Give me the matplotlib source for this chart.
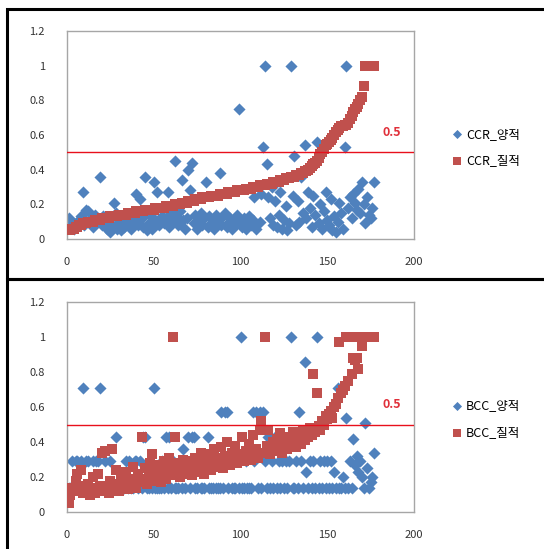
import matplotlib
matplotlib.use("Agg")
import matplotlib.pyplot as plt
from matplotlib.patches import Rectangle

plt.rcParams['font.family'] = ['Noto Sans CJK KR', 'DejaVu Sans']

# ---- data (x = DMU 순번) ----
ccr_qual = [
    0.05, 0.05, 0.06, 0.06, 0.07, 0.07, 0.08, 0.08, 0.09, 0.09,
    0.09, 0.10, 0.10, 0.10, 0.10, 0.11, 0.11, 0.11, 0.11, 0.12,
    0.12, 0.12, 0.12, 0.12, 0.13, 0.13, 0.13, 0.13, 0.13, 0.14,
    0.14, 0.14, 0.14, 0.14, 0.15, 0.15, 0.15, 0.15, 0.15, 0.16,
    0.16, 0.16, 0.16, 0.16, 0.17, 0.17, 0.17, 0.17, 0.17, 0.17,
    0.18, 0.18, 0.18, 0.18, 0.18, 0.18, 0.19, 0.19, 0.19, 0.19,
    0.19, 0.20, 0.20, 0.20, 0.20, 0.21, 0.21, 0.21, 0.21, 0.22,
    0.22, 0.22, 0.22, 0.23, 0.23, 0.23, 0.23, 0.24, 0.24, 0.24,
    0.24, 0.24, 0.25, 0.25, 0.25, 0.25, 0.25, 0.26, 0.26, 0.26,
    0.26, 0.26, 0.27, 0.27, 0.27, 0.27, 0.27, 0.28, 0.28, 0.28,
    0.28, 0.28, 0.29, 0.29, 0.29, 0.29, 0.30, 0.30, 0.30, 0.30,
    0.31, 0.31, 0.31, 0.31, 0.32, 0.32, 0.32, 0.32, 0.33, 0.33,
    0.33, 0.33, 0.34, 0.34, 0.34, 0.35, 0.35, 0.35, 0.36, 0.36,
    0.36, 0.37, 0.37, 0.37, 0.38, 0.38, 0.39, 0.39, 0.40, 0.41,
    0.42, 0.43, 0.44, 0.45, 0.47, 0.49, 0.50, 0.52, 0.54, 0.55,
    0.56, 0.57, 0.58, 0.60, 0.62, 0.63, 0.64, 0.65, 0.65, 0.66,
    0.66, 0.67, 0.69, 0.71, 0.73, 0.75, 0.76, 0.78, 0.80, 0.82,
    0.88, 1.00, 1.00, 1.00, 1.00, 1.00, 1.00,
]
ccr_quant = [
    0.12, 0.08, 0.10, 0.06, 0.09, 0.07, 0.11, 0.13, 0.27, 0.08,
    0.17, 0.16, 0.09, 0.12, 0.07, 0.14, 0.10, 0.11, 0.36, 0.08,
    0.13, 0.09, 0.06, 0.11, 0.04, 0.08, 0.21, 0.15, 0.06, 0.10,
    0.05, 0.12, 0.07, 0.09, 0.14, 0.08, 0.06, 0.11, 0.10, 0.26,
    0.08, 0.23, 0.12, 0.07, 0.36, 0.05, 0.09, 0.14, 0.06, 0.33,
    0.11, 0.27, 0.08, 0.10, 0.13, 0.09, 0.12, 0.27, 0.07, 0.15,
    0.10, 0.45, 0.13, 0.08, 0.16, 0.34, 0.11, 0.06, 0.12, 0.40,
    0.28, 0.44, 0.09, 0.14, 0.06, 0.10, 0.15, 0.08, 0.12, 0.33,
    0.07, 0.13, 0.09, 0.11, 0.06, 0.14, 0.10, 0.38, 0.08, 0.13,
    0.15, 0.07, 0.09, 0.12, 0.06, 0.11, 0.08, 0.14, 0.75, 0.10,
    0.07, 0.12, 0.06, 0.09, 0.13, 0.08, 0.11, 0.24, 0.06, 0.30,
    0.10, 0.26, 0.53, 1.00, 0.43, 0.24, 0.12, 0.30, 0.08, 0.22,
    0.07, 0.14, 0.27, 0.06, 0.11, 0.19, 0.05, 0.09, 1.00, 0.25,
    0.48, 0.08, 0.22, 0.10, 0.36, 0.15, 0.54, 0.12, 0.27, 0.18,
    0.07, 0.25, 0.14, 0.56, 0.09, 0.20, 0.06, 0.16, 0.27, 0.11,
    0.08, 0.23, 0.05, 0.13, 0.04, 0.10, 0.21, 0.15, 0.06, 0.53,
    1.00, 0.18, 0.24, 0.12, 0.26, 0.21, 0.17, 0.29, 0.15, 0.33,
    0.20, 0.09, 0.24, 0.14, 0.12, 0.18, 0.33,
]
bcc_qual = [
    0.05, 0.10, 0.14, 0.12, 0.18, 0.22, 0.13, 0.24, 0.11, 0.15,
    0.12, 0.16, 0.10, 0.14, 0.20, 0.11, 0.13, 0.22, 0.15, 0.34,
    0.12, 0.35, 0.14, 0.11, 0.18, 0.36, 0.13, 0.24, 0.16, 0.12,
    0.21, 0.14, 0.17, 0.23, 0.13, 0.19, 0.15, 0.26, 0.18, 0.14,
    0.22, 0.17, 0.43, 0.19, 0.25, 0.16, 0.21, 0.28, 0.33, 0.18,
    0.24, 0.20, 0.27, 0.17, 0.22, 0.29, 0.19, 0.25, 0.31, 0.21,
    1.00, 0.43, 0.23, 0.28, 0.20, 0.26, 0.30, 0.22, 0.27, 0.24,
    0.29, 0.21, 0.25, 0.31, 0.23, 0.28, 0.34, 0.26, 0.22, 0.30,
    0.27, 0.33, 0.24, 0.29, 0.36, 0.26, 0.31, 0.28, 0.37, 0.25,
    0.32, 0.40, 0.29, 0.27, 0.34, 0.30, 0.38, 0.28, 0.33, 0.31,
    0.43, 0.29, 0.35, 0.32, 0.39, 0.30, 0.44, 0.33, 0.36, 0.31,
    0.47, 0.52, 0.34, 1.00, 0.38, 0.47, 0.33, 0.36, 0.40, 0.35,
    0.42, 0.37, 0.45, 0.34, 0.39, 0.43, 0.36, 0.41, 0.38, 0.46,
    0.40, 0.37, 0.44, 0.42, 0.39, 0.47, 0.41, 0.45, 0.43, 0.48,
    0.44, 0.79, 0.46, 0.68, 0.49, 0.47, 0.52, 0.50, 0.55, 0.53,
    0.56, 0.58, 0.54, 0.60, 0.62, 0.65, 0.97, 0.68, 0.70, 0.72,
    1.00, 0.75, 1.00, 0.79, 0.88, 0.87, 0.88, 0.82, 1.00, 0.95,
    1.00, 1.00, 1.00, 1.00, 1.00, 1.00, 1.00,
]
bcc_quant = [
    0.14, 0.14, 0.29, 0.14, 0.29, 0.29, 0.14, 0.29, 0.71, 0.14,
    0.29, 0.29, 0.14, 0.14, 0.29, 0.14, 0.29, 0.29, 0.71, 0.14,
    0.14, 0.29, 0.14, 0.14, 0.29, 0.14, 0.14, 0.43, 0.14, 0.14,
    0.14, 0.14, 0.14, 0.29, 0.14, 0.29, 0.14, 0.14, 0.29, 0.29,
    0.14, 0.29, 0.14, 0.43, 0.43, 0.14, 0.14, 0.29, 0.14, 0.71,
    0.14, 0.14, 0.14, 0.14, 0.29, 0.14, 0.43, 0.14, 0.43, 0.14,
    0.29, 0.14, 0.14, 0.14, 0.29, 0.14, 0.36, 0.14, 0.29, 0.43,
    0.14, 0.43, 0.43, 0.14, 0.14, 0.29, 0.14, 0.14, 0.14, 0.29,
    0.43, 0.14, 0.14, 0.14, 0.29, 0.14, 0.14, 0.14, 0.57, 0.14,
    0.57, 0.57, 0.14, 0.29, 0.14, 0.14, 0.14, 0.29, 0.14, 1.00,
    0.14, 0.14, 0.29, 0.14, 0.14, 0.14, 0.57, 0.29, 0.57, 0.14,
    0.57, 0.14, 0.57, 0.29, 0.14, 0.43, 0.14, 0.29, 0.14, 0.43,
    0.14, 0.29, 0.14, 0.29, 0.14, 0.29, 0.14, 0.29, 1.00, 0.14,
    0.14, 0.29, 0.14, 0.57, 0.29, 0.14, 0.86, 0.23, 0.14, 0.29,
    0.14, 0.29, 0.14, 1.00, 0.14, 0.29, 0.14, 0.29, 0.14, 0.29,
    0.14, 0.29, 0.14, 0.23, 0.14, 0.71, 0.14, 0.14, 0.20, 0.14,
    0.54, 0.14, 0.29, 0.14, 0.42, 0.27, 0.32, 0.23, 0.29, 0.20,
    0.14, 0.51, 0.25, 0.14, 0.17, 0.20, 0.34,
]
threshold = 0.5
xticks = [0, 50, 100, 150, 200]
yticks = [0, 0.2, 0.4, 0.6, 0.8, 1.0, 1.2]
ytick_labels = ["0", "0.2", "0.4", "0.6", "0.8", "1", "1.2"]

BLUE = "#4F81BD"
RED = "#C0504D"

W, H = 544, 549
fig = plt.figure(figsize=(W / 100, H / 100), dpi=100)

panels = [
    # (axes rect in px: left, top, right, bottom), quant, qual, prefix, legend centre y px
    ((67, 31, 414, 239), ccr_quant, ccr_qual, "CCR", 147.5),
    ((67, 302, 414, 512), bcc_quant, bcc_qual, "BCC", 419),
]

for (l, t, r, b), quant, qual, name, leg_y in panels:
    ax = fig.add_axes([l / W, 1 - b / H, (r - l) / W, (b - t) / H])
    xs = list(range(1, len(quant) + 1))
    ax.scatter(xs, quant, marker="D", s=38, color=BLUE, linewidths=0,
               label=f"{name}_양적", zorder=2)
    ax.scatter(xs, qual, marker="s", s=62, color=RED, linewidths=0,
               label=f"{name}_질적", zorder=3)
    ax.axhline(threshold, color="#E8101C", lw=1.0, zorder=4)
    ax.text(187, 0.615, "0.5", color="#E0303A", fontsize=9, fontweight="bold",
            ha="center", va="center", clip_on=False)

    ax.set_xlim(0, 200)
    ax.set_ylim(0, 1.2)
    ax.set_xticks(xticks)
    ax.set_yticks(yticks)
    ax.set_yticklabels(ytick_labels)
    ax.tick_params(axis="both", length=0, labelsize=8, colors="#333333")
    ax.tick_params(axis="x", pad=13)
    ax.tick_params(axis="y", pad=16)
    for sp in ax.spines.values():
        sp.set_color("#A6A6A6")
        sp.set_linewidth(1.0)

    ax.legend(loc="center left", bbox_to_anchor=(446 / W, 1 - leg_y / H),
              bbox_transform=fig.transFigure, frameon=False, fontsize=9,
              handlelength=0.8, handletextpad=0.3, labelspacing=1.1,
              borderpad=0, markerscale=0.75)

# panel frames
fig.add_artist(Rectangle((7 / W, 1 - 279 / H), 1.2, (279 - 9) / H,
                         transform=fig.transFigure, fill=False,
                         ec="black", lw=2.2))
fig.add_artist(Rectangle((7 / W, -0.05), 1.2, 1 - 279 / H + 0.05,
                         transform=fig.transFigure, fill=False,
                         ec="black", lw=2.2))

fig.savefig("out.png", dpi=100)
